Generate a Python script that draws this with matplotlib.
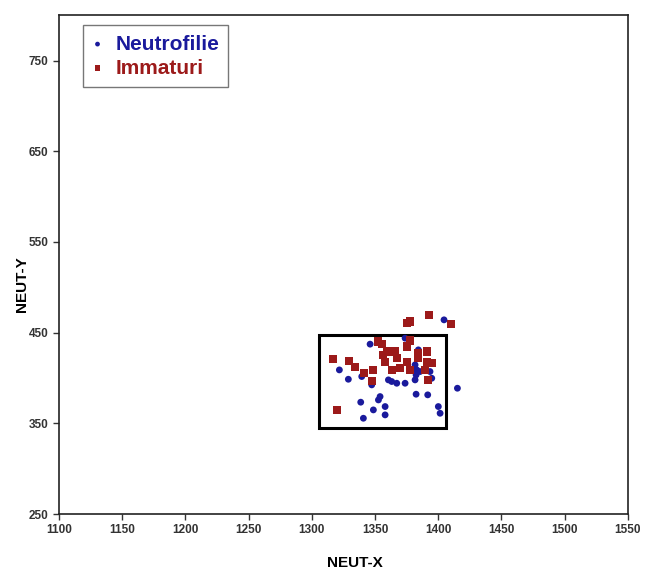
import matplotlib
matplotlib.use("Agg")
import matplotlib.pyplot as plt
from matplotlib.patches import Rectangle

neut_x = [1404.6, 1346.1, 1321.8, 1328.9, 1339.5, 1347.4, 1360.6, 1363.2, 1367.2, 1373.8,
          1381.7, 1382.5, 1383.0, 1381.7, 1385.6, 1384.3, 1373.8, 1394.9, 1393.5, 1415.2,
          1382.5, 1391.7, 1354.0, 1352.7, 1338.7, 1358.0, 1348.7, 1358.0, 1340.8, 1400.1,
          1401.5]
neut_y = [464.1, 437.3, 408.9, 398.6, 401.6, 392.4, 397.9, 396.1, 394.2, 394.2,
          397.9, 403.4, 408.9, 414.5, 407.1, 431.0, 443.9, 399.7, 407.1, 388.7,
          382.1, 381.4, 379.5, 375.8, 373.3, 368.5, 364.8, 359.3, 355.6, 368.5,
          361.1]

imm_x = [1393.0, 1375.1, 1377.7, 1409.9, 1352.7, 1355.3, 1359.3, 1365.9, 1375.1, 1377.7,
         1390.9, 1384.3, 1317.1, 1329.7, 1334.2, 1341.3, 1348.2, 1347.4, 1357.9, 1367.2,
         1356.6, 1363.2, 1369.8, 1375.1, 1377.7, 1384.3, 1390.9, 1394.9, 1389.6, 1392.2,
         1320.2]
imm_y = [469.6, 460.4, 462.3, 459.7, 440.2, 437.6, 429.2, 429.2, 434.7, 441.3,
         429.2, 427.3, 420.7, 418.9, 412.6, 405.3, 408.9, 396.8, 418.1, 421.8,
         425.5, 408.9, 410.8, 418.1, 408.9, 421.8, 418.1, 416.3, 408.9, 397.9,
         364.8]

gate = (1306, 345, 100, 102)  # x0, y0, width, height
x_ticks = list(range(1100, 1551, 50))
y_ticks = list(range(250, 751, 100))

plt.rcParams['font.family'] = ['Liberation Sans', 'DejaVu Sans']

fig = plt.figure(figsize=(6.56, 5.74), dpi=100)
ax = fig.add_axes([0.090, 0.1045, 0.867, 0.869])

blue = '#1a1a9c'
red = '#9c1a1a'
ax.scatter(neut_x, neut_y, s=24, marker='o', color=blue, edgecolors='none', label='Neutrofilie', zorder=3)
ax.scatter(imm_x, imm_y, s=34, marker='s', color=red, edgecolors='none', label='Immaturi', zorder=3)

ax.add_patch(Rectangle((gate[0], gate[1]), gate[2], gate[3], fill=False,
                       edgecolor='black', linewidth=2.2, zorder=2))

ax.set_xlim(1100, 1550)
ax.set_ylim(250, 800)
ax.set_xticks(x_ticks)
ax.set_yticks(y_ticks)
ax.tick_params(direction='out', length=4, width=1, labelsize=8.5, colors='#333333')
for lab in ax.get_xticklabels() + ax.get_yticklabels():
    lab.set_fontweight('bold')
for s in ax.spines.values():
    s.set_linewidth(1.2)
    s.set_color('#222222')

ax.set_xlabel('NEUT-X', fontsize=11, fontweight='bold')
ax.set_ylabel('NEUT-Y', fontsize=11, fontweight='bold')
ax.xaxis.set_label_coords(0.52, -0.085)
ax.yaxis.set_label_coords(-0.052, 0.46)

leg = ax.legend(loc='upper left', bbox_to_anchor=(0.042, 0.98), fontsize=15,
                frameon=True, fancybox=False, edgecolor='#555555', handlelength=0.5,
                handletextpad=0.6, borderpad=0.45, labelspacing=0.25, markerscale=0.7,
                borderaxespad=0)
leg.get_frame().set_linewidth(1.0)
for t, c in zip(leg.get_texts(), [blue, red]):
    t.set_color(c)
    t.set_fontweight('bold')

fig.savefig('out.png', dpi=100)
